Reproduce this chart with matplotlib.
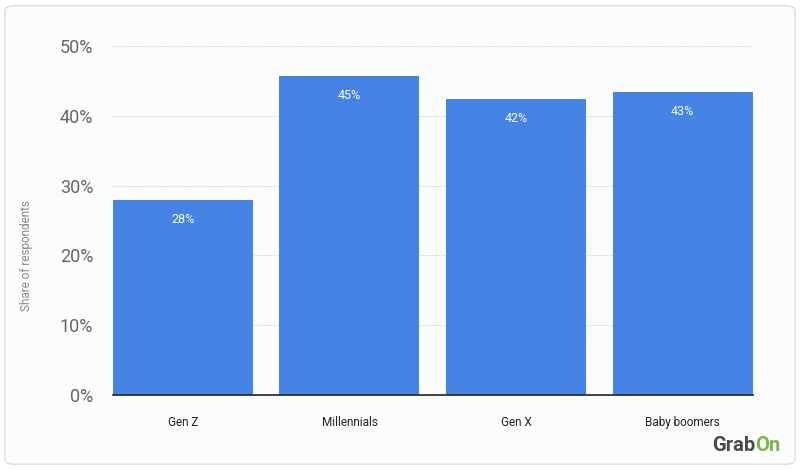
import matplotlib.pyplot as plt
from matplotlib.patches import FancyBboxPatch

DPI = 100
plt.rcParams['font.family'] = ['Roboto', 'DejaVu Sans']

categories = ["Gen Z", "Millennials", "Gen X", "Baby boomers"]
shares = [27.9, 45.7, 42.4, 43.4]
labels = ["28%", "45%", "42%", "43%"]
yticks = [0, 10, 20, 30, 40, 50]

bg = "#fcfcfa"
blue = "#4683e6"

fig = plt.figure(figsize=(8, 4.69), dpi=DPI, facecolor="white")
# card behind everything
card = FancyBboxPatch((0.006, 0.01), 0.988, 0.978, boxstyle="round,pad=0,rounding_size=0.012",
                      transform=fig.transFigure, facecolor=bg, edgecolor="#e2e2e2", linewidth=1.2,
                      zorder=-5)
fig.patches.append(card)

ax = fig.add_axes([0.141, 0.158, 0.8, 0.744])
ax.set_facecolor("none")

x = range(len(categories))
ax.bar(x, shares, width=0.84, color=blue, zorder=3)
for i in x:
    ax.text(i, shares[i] - 1.8, labels[i], ha="center", va="top", color="white", fontsize=9, zorder=4)

ax.set_xlim(-0.42, 3.42)
ax.set_ylim(0, 50)
ax.set_yticks(yticks)
ax.set_yticklabels([str(t) + "%" for t in yticks], fontsize=13, color="#666666")
ax.set_xticks(list(x))
ax.set_xticklabels(categories, fontsize=8.5, color="#222222")
ax.tick_params(axis="y", length=0, pad=14)
ax.tick_params(axis="x", length=0, pad=15)
ax.yaxis.grid(True, linestyle=(0, (1, 1.5)), color="#c4c4c4", linewidth=0.7, zorder=0)
for s in ["top", "right", "left"]:
    ax.spines[s].set_visible(False)
ax.spines["bottom"].set_color("#222222")
ax.spines["bottom"].set_linewidth(1.2)
ax.spines["bottom"].set_zorder(5)
ax.set_ylabel("Share of respondents", fontsize=8.5, color="#888888")
ax.yaxis.set_label_coords(-0.125, 0.40)

fig.text(0.944, 0.038, "Grab", fontsize=14.5, fontweight="bold", color="#4a4a4a", ha="right", va="baseline")
fig.text(0.944, 0.038, "On", fontsize=14.5, fontweight="bold", color="#7ab648", ha="left", va="baseline")

plt.savefig("out.png", dpi=DPI, facecolor="white")
